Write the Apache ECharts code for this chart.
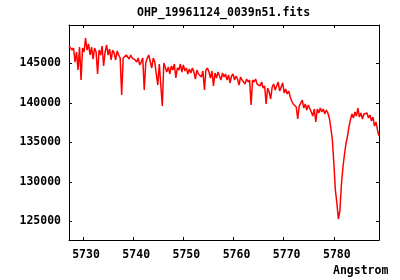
<!DOCTYPE html>
<html><head><meta charset="utf-8">
<script src="https://cdn.jsdelivr.net/npm/echarts@6/dist/echarts.min.js"></script>
<style>html,body{margin:0;padding:0;background:#fff}#c{width:400px;height:280px}</style>
</head><body><div id="c"></div>
<script>
const titleText = "OHP_19961124_0039n51.fits";
const xAxisName = "Angstrom";
const wavelength = [
5727.2,5727.5,5727.8,5728.1,5728.4,5728.7,5729.0,5729.3,5729.6,5729.9,
5730.2,5730.5,5730.8,5731.1,5731.4,5731.7,5732.0,5732.3,5732.6,5732.9,
5733.2,5733.5,5733.8,5734.1,5734.4,5734.7,5735.0,5735.3,5735.6,5735.9,
5736.2,5736.5,5736.8,5737.1,5737.4,5737.7,5738.0,5738.3,5738.6,5738.9,
5739.2,5739.5,5739.8,5740.1,5740.4,5740.7,5741.0,5741.3,5741.6,5741.9,
5742.2,5742.5,5742.8,5743.1,5743.4,5743.7,5744.0,5744.3,5744.6,5744.9,
5745.2,5745.5,5745.8,5746.1,5746.4,5746.7,5747.0,5747.3,5747.6,5747.9,
5748.2,5748.5,5748.8,5749.1,5749.4,5749.7,5750.0,5750.3,5750.6,5750.9,
5751.2,5751.5,5751.8,5752.1,5752.4,5752.7,5753.0,5753.3,5753.6,5753.9,
5754.2,5754.5,5754.8,5755.1,5755.4,5755.7,5756.0,5756.3,5756.6,5756.9,
5757.2,5757.5,5757.8,5758.1,5758.4,5758.7,5759.0,5759.3,5759.6,5759.9,
5760.2,5760.5,5760.8,5761.1,5761.4,5761.7,5762.0,5762.3,5762.6,5762.9,
5763.2,5763.5,5763.8,5764.1,5764.4,5764.7,5765.0,5765.3,5765.6,5765.9,
5766.2,5766.5,5766.8,5767.1,5767.4,5767.7,5768.0,5768.3,5768.6,5768.9,
5769.2,5769.5,5769.8,5770.1,5770.4,5770.7,5771.0,5771.3,5771.6,5771.9,
5772.2,5772.5,5772.8,5773.1,5773.4,5773.7,5774.0,5774.3,5774.6,5774.9,
5775.2,5775.5,5775.8,5776.1,5776.4,5776.7,5777.0,5777.3,5777.6,5777.9,
5778.2,5778.5,5778.8,5779.1,5779.4,5779.7,5780.0,5780.3,5780.6,5780.9,
5781.2,5781.5,5781.8,5782.1,5782.4,5782.7,5783.0,5783.3,5783.6,5783.9,
5784.2,5784.5,5784.8,5785.1,5785.4,5785.7,5786.0,5786.3,5786.6,5786.9,
5787.2,5787.5,5787.8,5788.1,5788.4,5788.7,5789.0
];
const flux = [
147190,147440,146680,146940,145160,146430,144150,147060,142890,146940,
146430,148200,146680,147440,146050,147060,145540,146940,146430,143650,
146680,146050,147190,144660,146430,147320,146050,146810,145420,146680,
146300,145420,146560,146050,145670,140990,145670,145420,146050,145800,
145540,146050,145670,145920,145420,145160,145670,144790,145160,145670,
141620,145040,145670,146050,145800,144410,145670,145160,143650,142250,
144910,145160,139600,145040,145160,143900,144530,143650,144660,144150,
144910,143140,144410,144150,144910,143900,144790,144030,144410,143650,
144280,143770,144410,143900,143010,144150,143650,143900,143270,144030,
141620,144150,144410,143900,143140,144030,142130,143770,143140,143900,
143390,142890,143770,143270,143650,142890,143520,142510,143390,143650,
142890,143390,143010,142250,143270,142890,143140,142380,143010,142630,
142890,139720,142890,142630,143010,142380,142510,142130,142630,141870,
142130,139850,141870,141370,140480,142000,142380,141620,142130,142630,
141490,142000,142510,141240,141750,141110,141490,140730,140230,139850,
140100,139470,137950,139600,139970,140350,139340,139850,139090,139720,
139470,138840,138330,139220,137570,139220,138710,139340,138840,139220,
138580,139090,138710,138080,136810,135290,132380,128960,127310,125290,
126300,129590,131750,133390,134780,135670,136940,137820,138580,138080,
138840,138330,139340,138200,138710,137950,138580,138330,138710,138080,
138450,137700,138200,137060,137570,136560,135800
];
const xMin = 5727.2, xMax = 5789.0;
const yMin = 122630, yMax = 149850;

const font = '"DejaVu Sans Mono", monospace';
const lbl = {color:'#000', fontFamily:font, fontWeight:'bold', fontSize:11.5};
const chart = echarts.init(document.getElementById('c'), null, {renderer:'canvas'});
const axLine = {show:true, lineStyle:{color:'#000', width:1}};
const axTick = {show:true, inside:true, length:3, lineStyle:{color:'#000', width:1}};
const plain = v => String(Math.round(v));
chart.setOption({
  animation:false,
  backgroundColor:'#fff',
  title:{text:titleText, left:137, top:7, padding:0,
    textStyle:{color:'#000', fontFamily:font, fontWeight:'bold', fontSize:11.5}},
  grid:{left:69, right:21, top:25, bottom:40, outerBoundsMode:'none', containLabel:false},
  xAxis:[
    {type:'value', min:xMin, max:xMax, splitNumber:6, position:'bottom',
     axisLine:axLine, axisTick:axTick, splitLine:{show:false},
     axisLabel:Object.assign({margin:9, showMinLabel:false, showMaxLabel:false, padding:[0,0,0,6], formatter:plain}, lbl)},
    {type:'value', min:xMin, max:xMax, splitNumber:6, position:'top',
     axisLine:axLine, axisTick:axTick, splitLine:{show:false}, axisLabel:{show:false}}
  ],
  yAxis:[
    {type:'value', min:yMin, max:yMax, splitNumber:5, position:'left',
     axisLine:axLine, axisTick:axTick, splitLine:{show:false},
     axisLabel:Object.assign({margin:8, showMinLabel:false, showMaxLabel:false, formatter:plain}, lbl)},
    {type:'value', min:yMin, max:yMax, splitNumber:5, position:'right',
     axisLine:axLine, axisTick:axTick, splitLine:{show:false}, axisLabel:{show:false}}
  ],
  graphic:[{type:'text', left:333, top:265,
    style:{text:xAxisName, fill:'#000', font:'bold 11.5px ' + font}}],
  series:[{type:'line', data:wavelength.map((w,i)=>[w, flux[i]]),
    showSymbol:false, symbol:'none', lineStyle:{color:'#ff0000', width:1.5}, itemStyle:{color:'#ff0000'}}]
});
</script></body></html>
